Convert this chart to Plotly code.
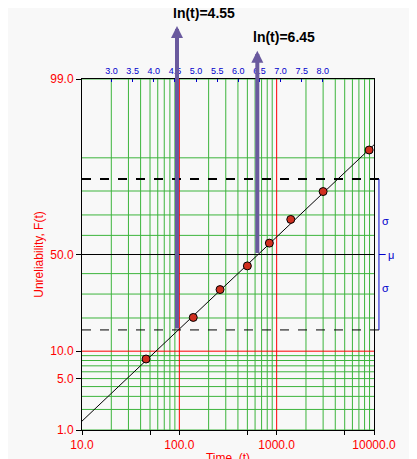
import math
from statistics import NormalDist
import plotly.graph_objects as go

# median-rank data points (time, unreliability %)
fail_time = [45.5, 139, 262, 500, 841, 1396, 3000, 8916]
unrel_pct = [8.3, 20.2, 32.1, 44.0, 56.0, 67.9, 79.8, 91.7]

# fitted lognormal line end points
fit_time = [10, 10000]
fit_unrel = [1.36, 92.7]

y_tick_pct = [1, 5, 10, 50, 99]
y_tick_text = ["1.0", "5.0", "10.0", "50.0", "99.0"]
x_tick_vals = [10, 50, 100, 500, 1000, 5000, 10000]
x_tick_text = ["10.0", "", "100.0", "", "1000.0", "", "10000.0"]
ln_ticks = [3.0, 3.5, 4.0, 4.5, 5.0, 5.5, 6.0, 6.5, 7.0, 7.5, 8.0]

grid_pct = [1, 2, 3, 4, 5, 6, 7, 8, 9, 20, 30, 40, 60, 70, 80, 90, 99]
grid_time = [20, 30, 40, 50, 60, 70, 80, 90, 200, 300, 400, 500, 600, 700, 800, 900,
             2000, 3000, 4000, 5000, 6000, 7000, 8000, 9000]
red_time = [100, 1000]

mu_ln = 6.45
low_ln = 4.55
sig_lo_pct, sig_hi_pct = 15.87, 84.13

nd = NormalDist()
def z(p):
    return nd.inv_cdf(p / 100.0)

RED = "#ff0000"
GREEN = "#3cb43c"
BLUE = "#0000cc"
PURPLE = "#6a5a9e"

fig = go.Figure()

def vlines(xs, color, width=1):
    xx, yy = [], []
    for v in xs:
        xx += [v, v, None]
        yy += [z(1), z(99), None]
    fig.add_trace(go.Scatter(x=xx, y=yy, mode="lines", line=dict(color=color, width=width),
                             hoverinfo="skip", showlegend=False))

def hlines(ps, color, width=1, dash="solid"):
    xx, yy = [], []
    for p in ps:
        xx += [10, 10000, None]
        yy += [z(p), z(p), None]
    fig.add_trace(go.Scatter(x=xx, y=yy, mode="lines", line=dict(color=color, width=width, dash=dash),
                             hoverinfo="skip", showlegend=False))

vlines(grid_time, GREEN)
hlines(grid_pct, GREEN)
vlines(red_time, RED)
hlines([10], RED)
hlines([50], "black")

# fit line and points
fig.add_trace(go.Scatter(x=fit_time, y=[z(p) for p in fit_unrel], mode="lines",
                         line=dict(color="black", width=1), showlegend=False))
fig.add_trace(go.Scatter(x=fail_time, y=[z(p) for p in unrel_pct], mode="markers",
                         marker=dict(color="#d03020", size=8, line=dict(color="black", width=1)),
                         showlegend=False))

# top ln(t) axis helper trace
fig.add_trace(go.Scatter(x=[10, 10000], y=[z(50), z(50)], xaxis="x2", mode="lines",
                         line=dict(width=0), hoverinfo="skip", showlegend=False))

# dashed sigma lines (extend past right edge)
fig.add_shape(type="line", xref="paper", yref="y", x0=0, x1=1.04, y0=z(sig_hi_pct), y1=z(sig_hi_pct),
              line=dict(color="black", width=2, dash="dash"))
fig.add_shape(type="line", xref="paper", yref="y", x0=0, x1=1.04, y0=z(sig_lo_pct), y1=z(sig_lo_pct),
              line=dict(color="black", width=1, dash="dash"))
# blue bracket
fig.add_shape(type="line", xref="paper", yref="y", x0=1.017, x1=1.017, y0=z(sig_lo_pct), y1=z(sig_hi_pct),
              line=dict(color=BLUE, width=1))
fig.add_shape(type="line", xref="paper", yref="y", x0=1.017, x1=1.04, y0=z(50), y1=z(50),
              line=dict(color=BLUE, width=1))
for txt, p in [("σ", 67), ("μ", 50), ("σ", 33)]:
    fig.add_annotation(x=1.02 if txt == "σ" else 1.04, xref="paper", y=z(p), yref="y", text=txt,
                       showarrow=False, xanchor="left", font=dict(color=BLUE, size=11))

# purple arrows
for ln_v, base_p, top_z, lab_y in [(low_ln, sig_lo_pct, 3.03, 1.16), (mu_ln, 50, 2.70, 1.09)]:
    lx = math.log10(math.exp(ln_v))
    fig.add_annotation(x=lx, y=top_z, xref="x", yref="y", ax=lx, ay=z(base_p), axref="x", ayref="y",
                       text="", showarrow=True, arrowhead=2, arrowsize=0.6, arrowwidth=4,
                       arrowcolor=PURPLE)
    fig.add_annotation(x=lx, y=lab_y, xref="x", yref="paper", text=f"<b>ln(t)={ln_v:.2f}</b>",
                       showarrow=False, xanchor="left", yanchor="bottom", xshift=-6,
                       font=dict(color="black", size=14))

fig.update_layout(
    width=417, height=459,
    margin=dict(l=74, r=51, t=71, b=37, autoexpand=False),
    paper_bgcolor="#f8f8f8", plot_bgcolor="#f8f8f8",
    font=dict(family="Liberation Sans, Arial, sans-serif", size=12, color=RED),
    xaxis=dict(type="log", range=[1, 4], tickvals=x_tick_vals, ticktext=x_tick_text,
               showgrid=False, zeroline=False, showline=True, linecolor="black", mirror=False,
               ticks="outside", ticklen=4, tickcolor="black", automargin=False,
               title=dict(text="Time, (t)", standoff=2, font=dict(color=RED, size=12))),
    xaxis2=dict(type="log", range=[1, 4], overlaying="x", side="top", automargin=False,
                tickvals=[math.exp(v) for v in ln_ticks], ticktext=[f"{v:.1f}" for v in ln_ticks],
                tickfont=dict(color=BLUE, size=9), ticks="inside", ticklen=3, tickcolor=BLUE,
                showgrid=False, zeroline=False, showline=True, linecolor="black"),
    yaxis=dict(range=[z(1), z(99)], tickvals=[z(p) for p in y_tick_pct], ticktext=y_tick_text,
               showgrid=False, zeroline=False, showline=True, linecolor="black", mirror=True,
               ticks="outside", ticklen=5, tickcolor="black", automargin=False,
               title=dict(text="Unreliability, F(t)", standoff=4, font=dict(color=RED, size=12))),
)

fig.write_html("out.html")
